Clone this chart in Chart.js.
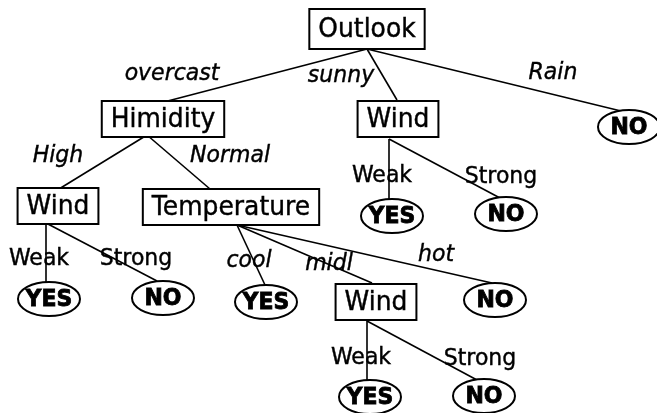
<!DOCTYPE html>
<html>
<head>
<meta charset="utf-8">
<script src="https://cdn.jsdelivr.net/npm/chart.js@4/dist/chart.umd.min.js"></script>
<style>
  html, body { margin: 0; padding: 0; background: #fff; }
  canvas { display: block; }
</style>
</head>
<body>
<canvas id="tree" width="657" height="413"></canvas>
<script>
// decision nodes (boxes)
var nodeNames = ['Outlook', 'Himidity', 'Wind', 'Wind', 'Temperature', 'Wind'];
var nodeX = [367, 163, 398, 58, 231, 376];
var nodeY = [29, 119, 119, 206, 207, 302];

// leaves (ellipses)
var leafNames = ['NO', 'YES', 'NO', 'YES', 'NO', 'YES', 'NO', 'YES', 'NO'];
var leafX = [629, 392, 506, 49, 163, 266, 495, 370, 484];
var leafY = [127, 216, 214, 299, 298, 302, 300, 397, 396];

// branches: from (x1,y1) to (x2,y2)
var edgeX1 = [367, 367, 367, 147, 147, 389, 389, 46, 46, 237, 237, 237, 367, 367];
var edgeY1 = [49, 49, 49, 135, 135, 139, 139, 223, 223, 225, 225, 225, 321, 321];
var edgeX2 = [160, 397, 621, 59, 210, 389, 500, 46, 157, 265, 372, 492, 367, 477];
var edgeY2 = [103, 100, 111, 189, 189, 200, 198, 282, 281, 285, 283, 283, 381, 380];

// branch labels
var labelText = ['overcast', 'sunny', 'Rain', 'High', 'Normal', 'Weak', 'Strong',
                 'Weak', 'Strong', 'cool', 'midl', 'hot', 'Weak', 'Strong'];
var labelX = [172, 341, 553, 58, 230, 382, 501, 39, 136, 249, 329, 436, 361, 480];
var labelY = [74, 76, 73, 156, 156, 176, 177, 259, 259, 261, 264, 255, 358, 359];
var labelItalic = [true, true, true, true, true, false, false,
                   false, false, true, true, true, false, false];

var datasets = [];
for (var i = 0; i < edgeX1.length; i++) {
  datasets.push({
    data: [{x: edgeX1[i], y: edgeY1[i]}, {x: edgeX2[i], y: edgeY2[i]}],
    showLine: true,
    borderColor: '#000',
    borderWidth: 1.6,
    pointRadius: 0,
    fill: false
  });
}

// text is a bit taller than wide in the original, and heavier
function drawText(ctx, txt, x, y, stroke) {
  ctx.save();
  ctx.translate(x, y);
  ctx.scale(1, 1.08);
  ctx.fillText(txt, 0, 0);
  ctx.lineWidth = stroke;
  ctx.strokeText(txt, 0, 0);
  ctx.restore();
}

var treePlugin = {
  id: 'treeNodes',
  afterDatasetsDraw: function(chart) {
    var ctx = chart.ctx;
    var sx = chart.scales.x, sy = chart.scales.y;
    ctx.save();
    ctx.textAlign = 'center';
    ctx.textBaseline = 'middle';
    ctx.fillStyle = '#000';
    ctx.strokeStyle = '#000';

    // branch labels
    for (var i = 0; i < labelText.length; i++) {
      ctx.font = (labelItalic[i] ? 'italic ' : '') + '22px "DejaVu Sans"';
      ctx.fillStyle = '#000';
      drawText(ctx, labelText[i], sx.getPixelForValue(labelX[i]), sy.getPixelForValue(labelY[i]), 0.4);
    }

    // boxes
    ctx.font = '25px "DejaVu Sans"';
    for (var j = 0; j < nodeNames.length; j++) {
      var cx = sx.getPixelForValue(nodeX[j]);
      var cy = sy.getPixelForValue(nodeY[j]);
      var w = ctx.measureText(nodeNames[j]).width + 18;
      var h = j === 0 ? 40 : 36;
      ctx.fillStyle = '#fff';
      ctx.fillRect(cx - w / 2, cy - h / 2, w, h);
      ctx.lineWidth = 2;
      ctx.strokeRect(cx - w / 2, cy - h / 2, w, h);
      ctx.fillStyle = '#000';
      drawText(ctx, nodeNames[j], cx, cy + 1, 0.4);
    }

    // leaves
    ctx.font = 'bold 22px "DejaVu Sans"';
    for (var k = 0; k < leafNames.length; k++) {
      var lx = sx.getPixelForValue(leafX[k]);
      var ly = sy.getPixelForValue(leafY[k]);
      ctx.beginPath();
      ctx.ellipse(lx, ly, 31, 17, 0, 0, Math.PI * 2);
      ctx.fillStyle = '#fff';
      ctx.fill();
      ctx.lineWidth = 2;
      ctx.stroke();
      ctx.fillStyle = '#000';
      drawText(ctx, leafNames[k], lx, ly + 1, 0.8);
    }
    ctx.restore();
  }
};

new Chart(document.getElementById('tree'), {
  type: 'scatter',
  data: { datasets: datasets },
  options: {
    responsive: false,
    animation: false,
    layout: { padding: 0 },
    plugins: { legend: { display: false }, tooltip: { enabled: false } },
    scales: {
      x: { type: 'linear', min: 0, max: 657, display: false },
      y: { type: 'linear', min: 0, max: 413, reverse: true, display: false }
    }
  },
  plugins: [treePlugin]
});
</script>
</body>
</html>
